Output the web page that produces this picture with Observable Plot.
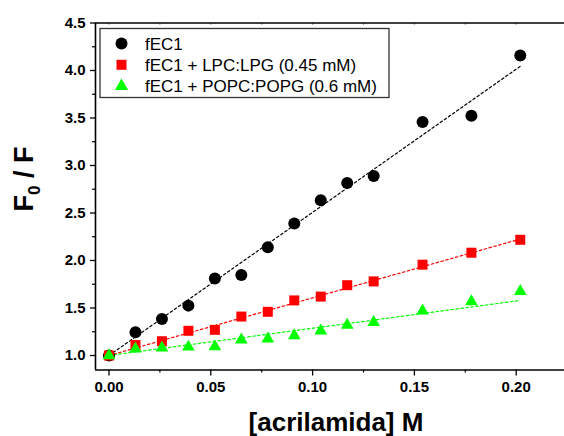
<!DOCTYPE html>
<html><head><meta charset="utf-8">
<script src="https://cdn.jsdelivr.net/npm/d3@7"></script>
<script src="https://cdn.jsdelivr.net/npm/@observablehq/plot@0.6"></script>
<style>
body{margin:0;background:#fff}
#chart svg{display:block}
</style>
</head><body><div id="chart"></div>
<script>
// ---- data ----
const acrylamide = [0, 0.013, 0.026, 0.039, 0.052, 0.065, 0.078, 0.091, 0.104, 0.117, 0.130, 0.154, 0.178, 0.202];
const fEC1      = [1.00, 1.245, 1.385, 1.525, 1.81, 1.848, 2.14, 2.39, 2.635, 2.817, 2.89, 3.458, 3.524, 4.159];
const fEC1_LPC  = [1.00, 1.11, 1.15, 1.26, 1.27, 1.41, 1.46, 1.58, 1.62, 1.74, 1.78, 1.956, 2.082, 2.218];
const fEC1_POPC = [1.00, 1.07, 1.08, 1.09, 1.095, 1.165, 1.175, 1.21, 1.26, 1.32, 1.35, 1.47, 1.567, 1.675];
const seriesNames  = ["fEC1", "fEC1 + LPC:LPG (0.45 mM)", "fEC1 + POPC:POPG (0.6 mM)"];
const seriesColors = ["#000000", "#ff0000", "#00ff00"];
const seriesSymbols = ["circle", "square", "triangle"];
// Stern–Volmer fit lines (intercept, slope)
const fitIntercepts = [1.0, 1.0, 1.0];
const fitSlopes     = [15.07, 6.07, 2.87];
const xTicks = [0.00, 0.05, 0.10, 0.15, 0.20];
const xMinorTicks = [0.025, 0.075, 0.125, 0.175];
const xTopTicks = [0.00, 0.025, 0.05, 0.075, 0.10, 0.125, 0.15, 0.175, 0.20];
const yTicks = [1.0, 1.5, 2.0, 2.5, 3.0, 3.5, 4.0, 4.5];
const yMinorTicks = [1.25, 1.75, 2.25, 2.75, 3.25, 3.75, 4.25];
const xLabel = "[acrilamida] M";

// ---- build tables ----
const seriesValues = [fEC1, fEC1_LPC, fEC1_POPC];
const points = seriesValues.map((vals, s) => acrylamide.map((x, i) => ({x, y: vals[i], series: seriesNames[s]})));
const xMax = d3.max(acrylamide);
const fits = seriesNames.flatMap((name, s) => [0, xMax].map(x => ({x, y: fitIntercepts[s] + fitSlopes[s] * x, series: name})));

const W = 564, H = 436;
const mL = 95, mR = 0, mT = 22.5, mB = 66.5;
const frameW = W - mL - mR, frameH = H - mT - mB;
const xDomain = [-0.00663, 0.22372];
const yDomain = [0.8474, 4.5];
const font = "'Liberation Sans', Arial, sans-serif";

const chart = Plot.plot({
  width: W, height: H,
  marginLeft: mL, marginRight: mR, marginTop: mT, marginBottom: mB,
  x: {domain: xDomain, label: null},
  y: {domain: yDomain, label: null},
  style: {fontFamily: font, fontSize: "15px", fontWeight: "bold", color: "#000", background: "#fff"},
  color: {domain: seriesNames, range: seriesColors},
  marks: [
    Plot.axisX(xTicks, {anchor: "bottom", tickSize: 6, tickPadding: 5, tickFormat: d3.format(".2f"), fontSize: 15, fontWeight: "bold", strokeWidth: 1.3}),
    Plot.axisY(yTicks, {anchor: "left", tickSize: 5, tickPadding: 5, tickFormat: d3.format(".1f"), fontSize: 15, fontWeight: "bold", strokeWidth: 1.3}),
    // minor ticks (outward) and faint inward top ticks
    Plot.ruleX(xMinorTicks, {stroke: "#000", strokeWidth: 1.2, insetTop: frameH, insetBottom: -3}),
    Plot.ruleY(yMinorTicks, {stroke: "#000", strokeWidth: 1.2, insetRight: frameW, insetLeft: -3}),
    Plot.ruleX(xTopTicks, {stroke: "#888", strokeWidth: 0.8, insetBottom: frameH - 2.5}),
    // frame (left, bottom, top; right side is cut off in the reference)
    Plot.ruleX([xDomain[0]], {stroke: "#000", strokeWidth: 1.6}),
    Plot.ruleY([yDomain[0], yDomain[1]], {stroke: "#000", strokeWidth: 1.6}),
    Plot.line(fits, {x: "x", y: "y", z: "series", stroke: "series", strokeWidth: 1.2, strokeDasharray: "2.5,2.5"}),
    ...points.map((pts, s) => Plot.dot(pts, {
      x: "x", y: "y", symbol: () => seriesSymbols[s], fill: seriesColors[s], stroke: "none",
      r: [6, 5.64, 4.7][s]
    }))
  ]
});

document.getElementById("chart").appendChild(chart);
const svg = d3.select(chart);

// x-axis title
svg.append("text")
  .attr("x", 336).attr("y", 431)
  .attr("text-anchor", "middle")
  .style("font-family", font).style("font-size", "26px").style("font-weight", "bold")
  .text(xLabel);

// y-axis title with subscript
const yt = svg.append("text")
  .attr("transform", "translate(33,179) rotate(-90)")
  .attr("text-anchor", "middle")
  .style("font-family", font).style("font-size", "27px").style("font-weight", "bold");
yt.append("tspan").text("F");
yt.append("tspan").attr("dy", 7).style("font-size", "17px").text("0");
yt.append("tspan").attr("dy", -7).text(" / F");

// legend
const lg = svg.append("g").attr("text-anchor", "start");
lg.append("rect").attr("x", 100).attr("y", 28.5).attr("width", 289).attr("height", 69)
  .attr("fill", "#fff").attr("stroke", "#333").attr("stroke-width", 1.3);
const legendSizes = [Math.PI * 36, 100, 75];
seriesNames.forEach((name, i) => {
  const cy = 43.5 + i * 21.3;
  const sym = d3.symbol().type([d3.symbolCircle, d3.symbolSquare, d3.symbolTriangle][i]).size(legendSizes[i]);
  lg.append("path").attr("d", sym()).attr("transform", `translate(121.5,${cy})`).attr("fill", seriesColors[i]);
  lg.append("text").attr("x", 145).attr("y", cy + 6).attr("text-anchor", "start")
    .style("font-family", font).style("font-size", "17px").style("font-weight", "normal")
    .text(name);
});
</script>
</body></html>
